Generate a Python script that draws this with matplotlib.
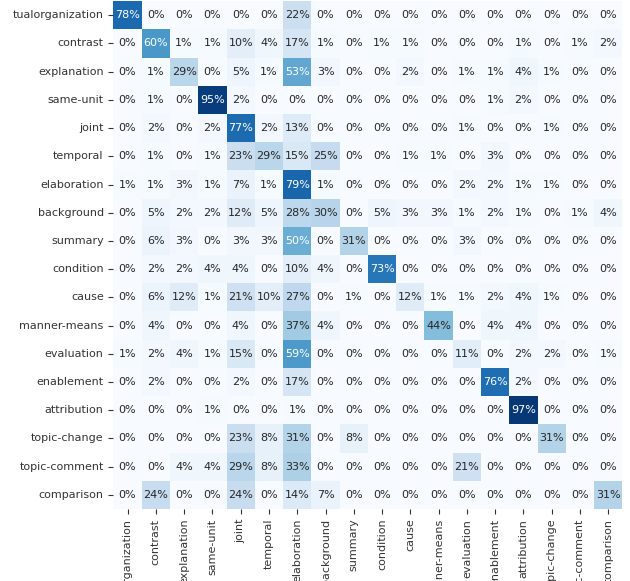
import numpy as np
import matplotlib
matplotlib.use("Agg")
import matplotlib.pyplot as plt
import seaborn as sns

# relation labels (rows = true, cols = predicted), first one as shown in the reference
labels = ["tualorganization", "contrast", "explanation", "same-unit", "joint",
          "temporal", "elaboration", "background", "summary", "condition", "cause",
          "manner-means", "evaluation", "enablement", "attribution", "topic-change",
          "topic-comment", "comparison"]

# row-normalised confusion values in percent
r_textorg = [78, 0, 0, 0, 0, 0, 22, 0, 0, 0, 0, 0, 0, 0, 0, 0, 0, 0]
r_contrast = [0, 60, 1, 1, 10, 4, 17, 1, 0, 1, 1, 0, 0, 0, 1, 0, 1, 2]
r_explanation = [0, 1, 29, 0, 5, 1, 53, 3, 0, 0, 2, 0, 1, 1, 4, 1, 0, 0]
r_sameunit = [0, 1, 0, 95, 2, 0, 0, 0, 0, 0, 0, 0, 0, 1, 2, 0, 0, 0]
r_joint = [0, 2, 0, 2, 77, 2, 13, 0, 0, 0, 0, 0, 1, 0, 0, 1, 0, 0]
r_temporal = [0, 1, 0, 1, 23, 29, 15, 25, 0, 0, 1, 1, 0, 3, 0, 0, 0, 0]
r_elaboration = [1, 1, 3, 1, 7, 1, 79, 1, 0, 0, 0, 0, 2, 2, 1, 1, 0, 0]
r_background = [0, 5, 2, 2, 12, 5, 28, 30, 0, 5, 3, 3, 1, 2, 1, 0, 1, 4]
r_summary = [0, 6, 3, 0, 3, 3, 50, 0, 31, 0, 0, 0, 3, 0, 0, 0, 0, 0]
r_condition = [0, 2, 2, 4, 4, 0, 10, 4, 0, 73, 0, 0, 0, 0, 0, 0, 0, 0]
r_cause = [0, 6, 12, 1, 21, 10, 27, 0, 1, 0, 12, 1, 1, 2, 4, 1, 0, 0]
r_manner = [0, 4, 0, 0, 4, 0, 37, 4, 0, 0, 0, 44, 0, 4, 4, 0, 0, 0]
r_evaluation = [1, 2, 4, 1, 15, 0, 59, 0, 0, 0, 0, 0, 11, 0, 2, 2, 0, 1]
r_enablement = [0, 2, 0, 0, 2, 0, 17, 0, 0, 0, 0, 0, 0, 76, 2, 0, 0, 0]
r_attribution = [0, 0, 0, 1, 0, 0, 1, 0, 0, 0, 0, 0, 0, 0, 97, 0, 0, 0]
r_topicchange = [0, 0, 0, 0, 23, 8, 31, 0, 8, 0, 0, 0, 0, 0, 0, 31, 0, 0]
r_topiccomment = [0, 0, 4, 4, 29, 8, 33, 0, 0, 0, 0, 0, 21, 0, 0, 0, 0, 0]
r_comparison = [0, 24, 0, 0, 24, 0, 14, 7, 0, 0, 0, 0, 0, 0, 0, 0, 0, 31]

cm = np.array([r_textorg, r_contrast, r_explanation, r_sameunit, r_joint,
               r_temporal, r_elaboration, r_background, r_summary, r_condition,
               r_cause, r_manner, r_evaluation, r_enablement, r_attribution,
               r_topicchange, r_topiccomment, r_comparison]) / 100.0

fig = plt.figure(figsize=(6.3, 5.81), dpi=100)
ax = fig.add_axes([0.180, 0.124, 0.808, 0.874])
sns.heatmap(cm, ax=ax, cmap="Blues", vmin=0, vmax=1, annot=True, fmt=".0%",
            cbar=False, xticklabels=labels, yticklabels=labels,
            annot_kws={"fontsize": 8})
ax.tick_params(axis="both", labelsize=8, colors="#333333")
plt.setp(ax.get_xticklabels(), rotation=90)
plt.setp(ax.get_yticklabels(), rotation=0)

fig.savefig("out.png", dpi=100)
